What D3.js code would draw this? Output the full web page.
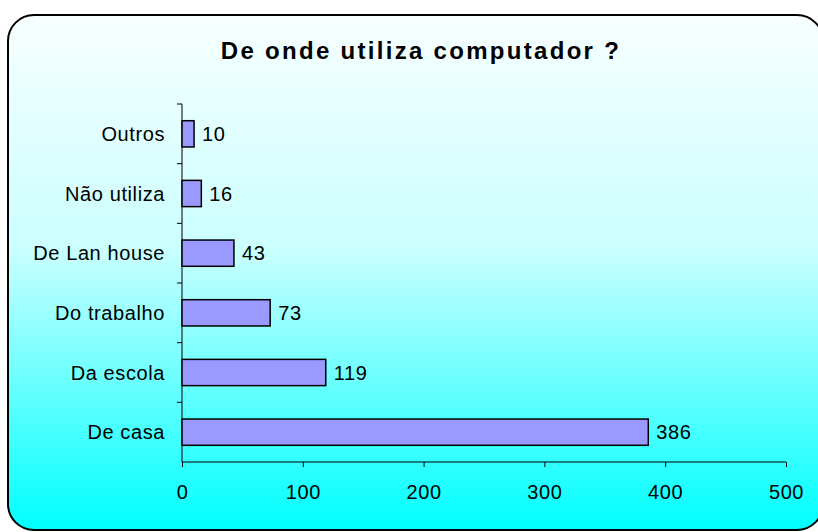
<!DOCTYPE html>
<html>
<head>
<meta charset="utf-8">
<script src="https://cdn.jsdelivr.net/npm/d3@7"></script>
<style>
  html, body { margin: 0; padding: 0; background: #fff; }
  svg { display: block; font-family: "Liberation Sans", Arial, sans-serif; }
</style>
</head>
<body>
<svg id="chart" width="818" height="532"></svg>
<script>
// dados do gráfico
const categories = ['Outros', 'Não utiliza', 'De Lan house', 'Do trabalho', 'Da escola', 'De casa'];
const values = [10, 16, 43, 73, 119, 386];
const xTicks = [0, 100, 200, 300, 400, 500];

const svg = d3.select('#chart');

// gradiente de fundo
const defs = svg.append('defs');
const grad = defs.append('linearGradient')
    .attr('id', 'bg')
    .attr('x1', 0).attr('y1', 0).attr('x2', 0).attr('y2', 1);
grad.append('stop').attr('offset', '0%').attr('stop-color', '#f8ffff');
grad.append('stop').attr('offset', '45%').attr('stop-color', '#ccffff');
grad.append('stop').attr('offset', '100%').attr('stop-color', '#00ffff');

// moldura arredondada
svg.append('rect')
    .attr('x', 8).attr('y', 15)
    .attr('width', 815).attr('height', 515)
    .attr('rx', 26).attr('ry', 26)
    .attr('fill', 'url(#bg)')
    .attr('stroke', '#000')
    .attr('stroke-width', 2);

// título
svg.append('text')
    .attr('x', 421).attr('y', 59)
    .attr('text-anchor', 'middle')
    .attr('font-size', '24px')
    .attr('font-weight', 'bold')
    .attr('letter-spacing', '2.3px')
    .text('De onde utiliza computador ?');

const margin = { left: 182, right: 786, top: 104, bottom: 462 };

const x = d3.scaleLinear().domain([0, 500]).range([margin.left, margin.right]);
const y = d3.scaleBand().domain(categories).range([margin.top, margin.bottom]).paddingInner(0.56).paddingOuter(0.28);
const yBand = d3.scaleBand().domain(categories).range([margin.top, margin.bottom]);

const fontSize = '20px';
const spacing = '0.6px';

// eixo x
const xAxis = svg.append('g')
    .attr('transform', `translate(0,${margin.bottom})`)
    .call(d3.axisBottom(x).tickValues(xTicks).tickSize(5).tickFormat(d3.format('d')));
xAxis.select('.domain').attr('stroke', '#000').attr('stroke-width', 1).attr('d', `M${margin.left},0H${margin.right}`);
xAxis.selectAll('.tick line').attr('stroke', '#000');
xAxis.selectAll('.tick text')
    .attr('font-size', fontSize)
    .attr('letter-spacing', spacing)
    .attr('font-family', '"Liberation Sans", Arial, sans-serif')
    .attr('fill', '#000')
    .attr('y', 37)
    .attr('dy', null);

// eixo y
const yAxisG = svg.append('g').attr('transform', `translate(${margin.left},0)`);
yAxisG.append('line')
    .attr('x1', 0).attr('x2', 0)
    .attr('y1', margin.top).attr('y2', margin.bottom)
    .attr('stroke', '#000');
yAxisG.selectAll('line.tick')
    .data(categories)
    .join('line')
    .attr('class', 'tick')
    .attr('x1', -5).attr('x2', 0)
    .attr('y1', d => yBand(d))
    .attr('y2', d => yBand(d))
    .attr('stroke', '#000');
yAxisG.selectAll('text')
    .data(categories)
    .join('text')
    .attr('x', -17)
    .attr('y', d => yBand(d) + yBand.bandwidth() / 2)
    .attr('dy', '0.36em')
    .attr('text-anchor', 'end')
    .attr('font-size', fontSize)
    .attr('letter-spacing', spacing)
    .text(d => d);

// barras
const data = categories.map((c, i) => ({ cat: c, value: values[i] }));
svg.append('g')
    .selectAll('rect')
    .data(data)
    .join('rect')
    .attr('x', x(0))
    .attr('y', d => y(d.cat))
    .attr('width', d => x(d.value) - x(0))
    .attr('height', y.bandwidth())
    .attr('fill', '#9999ff')
    .attr('stroke', '#000')
    .attr('stroke-width', 1.5);

// rótulos de valor
svg.append('g')
    .selectAll('text')
    .data(data)
    .join('text')
    .attr('x', d => x(d.value) + 8)
    .attr('y', d => y(d.cat) + y.bandwidth() / 2)
    .attr('dy', '0.36em')
    .attr('font-size', fontSize)
    .attr('letter-spacing', spacing)
    .text(d => d.value);
</script>
</body>
</html>
